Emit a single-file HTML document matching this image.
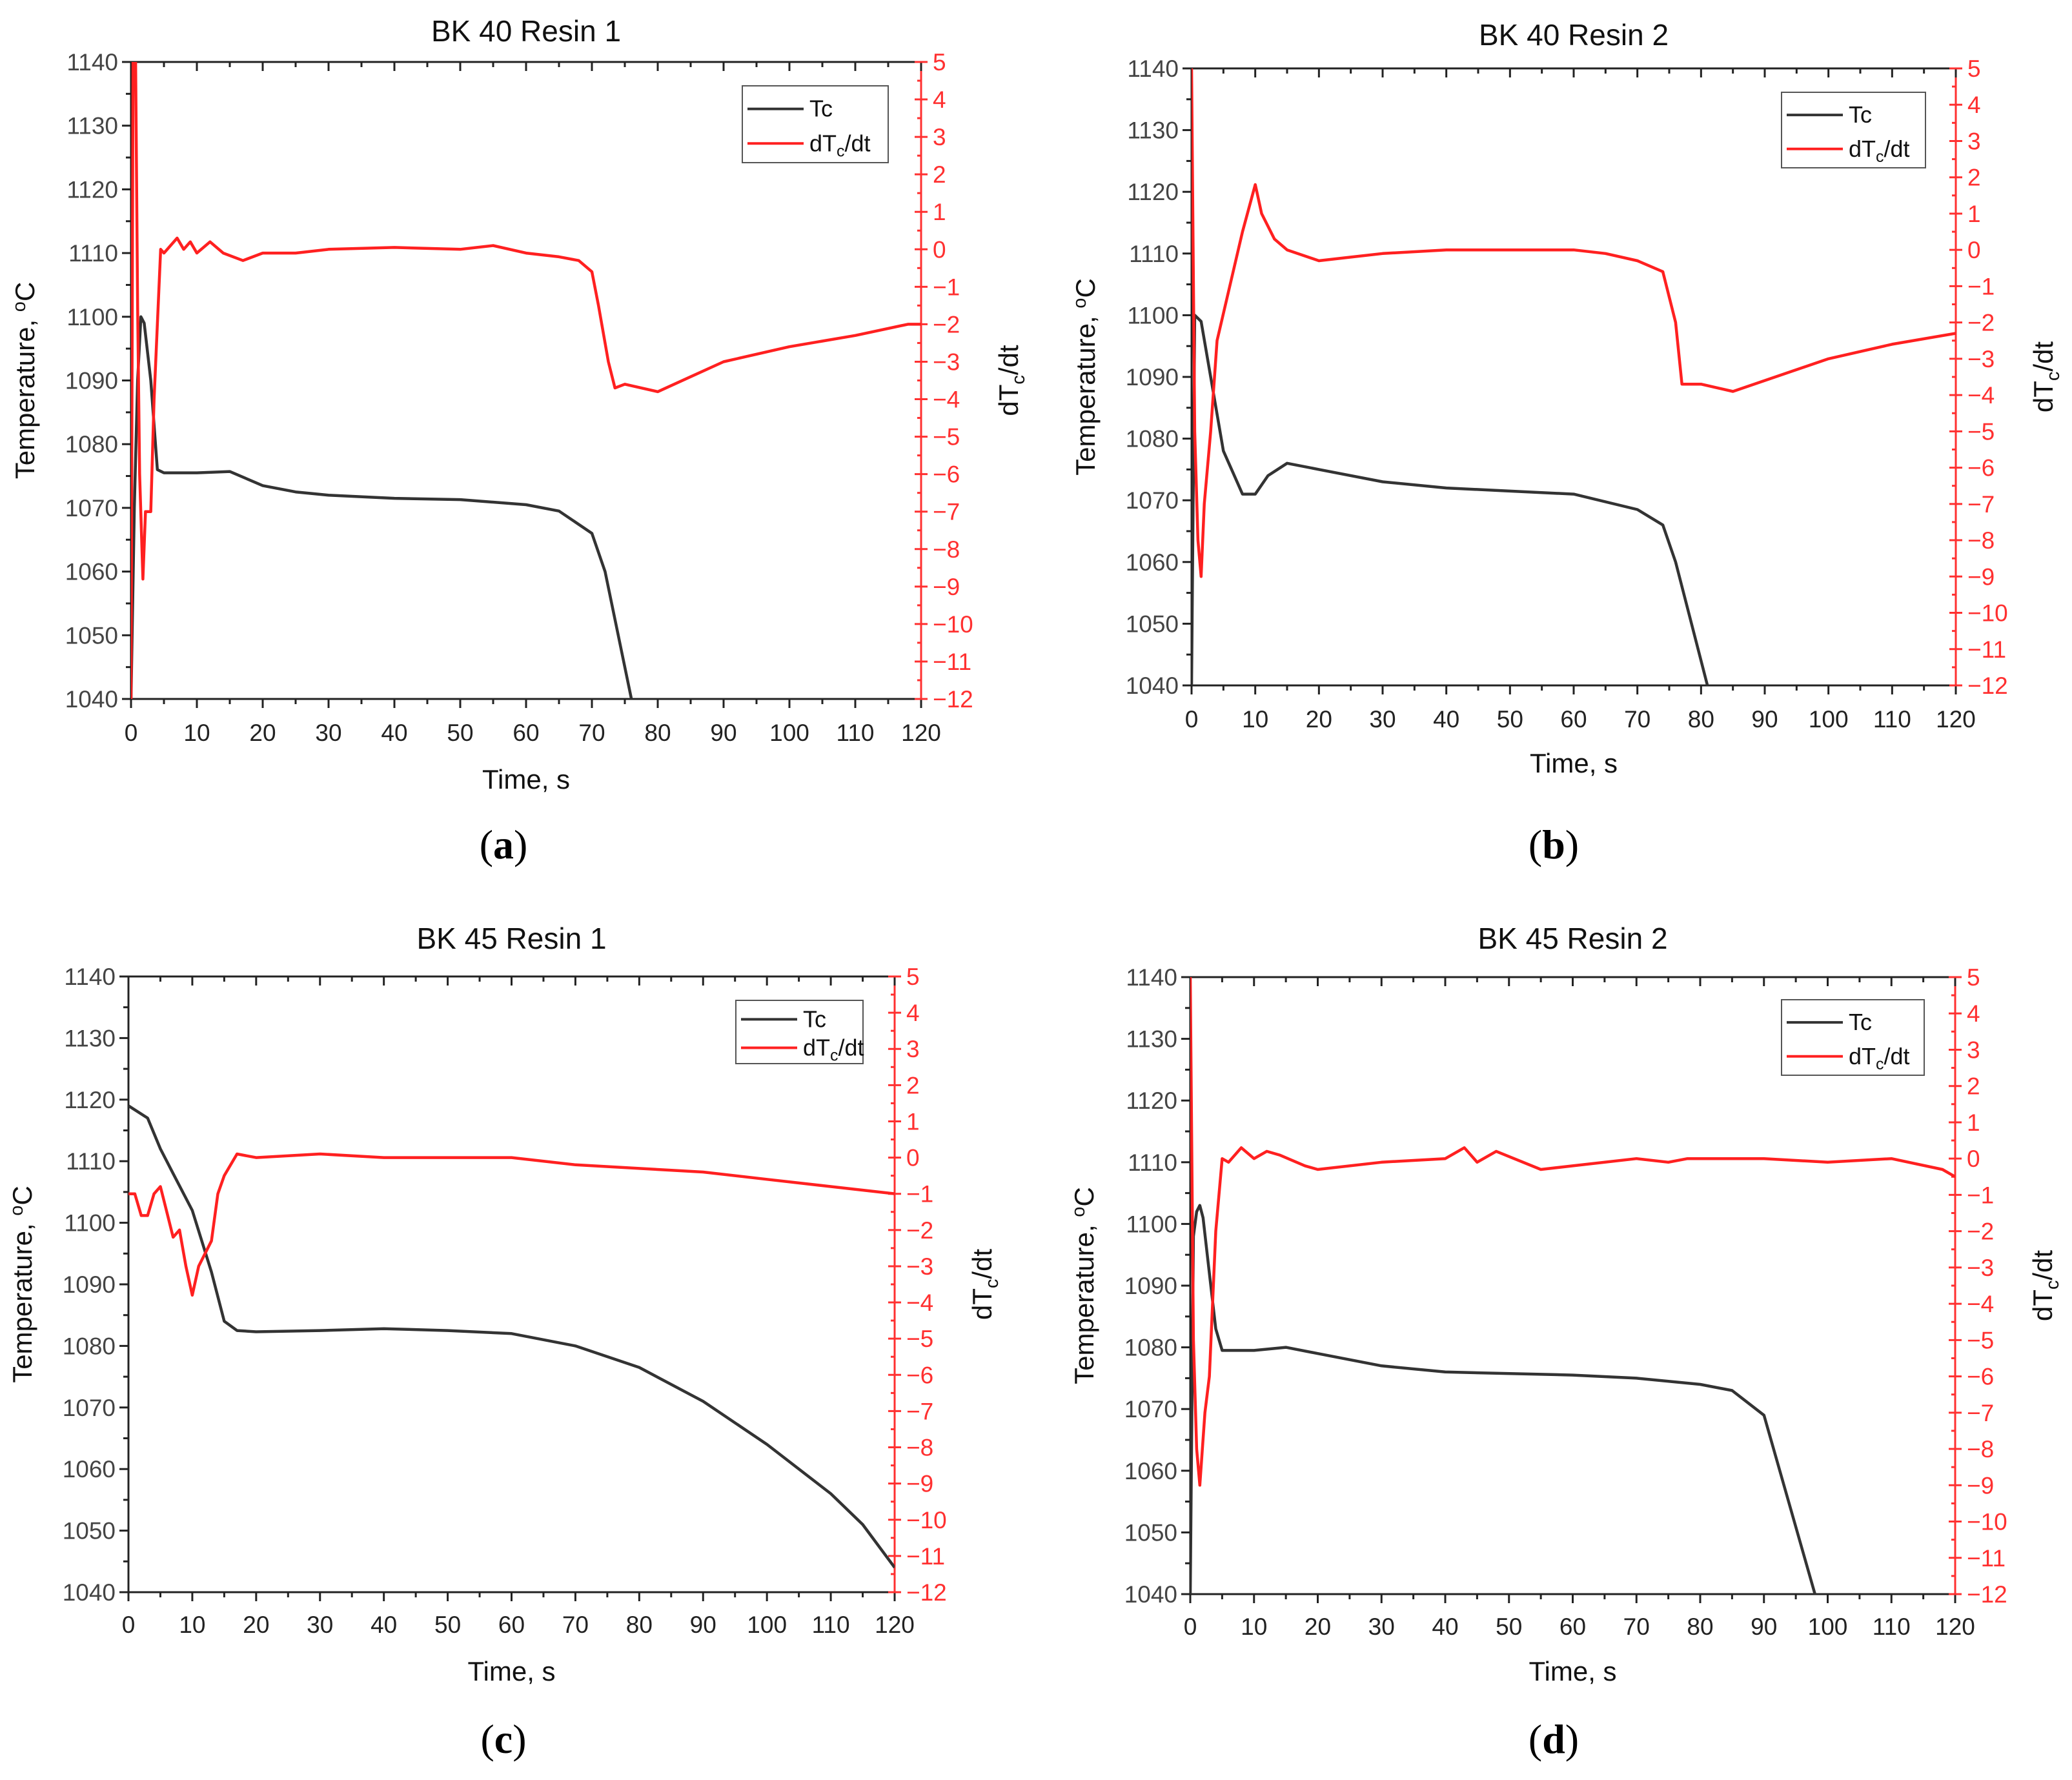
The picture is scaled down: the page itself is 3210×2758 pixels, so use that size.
<!DOCTYPE html>
<html><head><meta charset="utf-8">
<style>
html,body{margin:0;padding:0;background:#fff;}
svg{display:block;font-family:"Liberation Sans",Arial,sans-serif;}
</style></head>
<body>
<svg id="fig" width="3210" height="2758" viewBox="0 0 3210 2758" xmlns="http://www.w3.org/2000/svg"></svg>
<script>
// ---- data (time s, value) ----
const aTcT=[0,0.5,1,1.5,2,3,4,5,10,15,20,25,30,40,50,60,65,70,72,76];
const aTcV=[1040,1070,1090,1100,1099,1090,1076,1075.5,1075.5,1075.7,1073.5,1072.5,1072,1071.5,1071.3,1070.5,1069.5,1066,1060,1040];
const aDT=[0,0.3,0.7,1,1.3,1.8,2.2,3,3.5,4.5,5,6,7,8,9,10,12,14,17,20,25,30,40,50,55,60,65,68,70,71,72.5,73.5,75,80,85,90,100,110,118,120];
const aDV=[-12,5,5,-1.5,-6,-8.8,-7,-7,-4,0,-0.1,0.1,0.3,0,0.2,-0.1,0.2,-0.1,-0.3,-0.1,-0.1,0,0.05,0,0.1,-0.1,-0.2,-0.3,-0.6,-1.5,-3,-3.7,-3.6,-3.8,-3.4,-3,-2.6,-2.3,-2,-2];
const bTcT=[0,0.5,1.5,3,5,8,10,12,15,20,30,40,50,60,70,74,76,81];
const bTcV=[1040,1100,1099,1090,1078,1071,1071,1074,1076,1075,1073,1072,1071.5,1071,1068.5,1066,1060,1040];
const bDT=[0,0.5,1,1.5,2,3,4,6,8,10,11,13,15,20,25,30,40,50,60,65,70,74,76,77,80,85,90,100,110,120];
const bDV=[5,-5,-8,-9,-7,-5,-2.5,-1,0.5,1.8,1,0.3,0,-0.3,-0.2,-0.1,0,0,0,-0.1,-0.3,-0.6,-2,-3.7,-3.7,-3.9,-3.6,-3,-2.6,-2.3];
const cTcT=[0,3,5,7,10,13,15,17,20,30,40,50,60,70,80,90,100,110,115,120];
const cTcV=[1119,1117,1112,1108,1102,1092,1084,1082.5,1082.3,1082.5,1082.8,1082.5,1082,1080,1076.5,1071,1064,1056,1051,1044];
const cDT=[0,1,2,3,4,5,6,7,8,9,10,11,13,14,15,17,20,30,40,50,60,70,80,90,100,110,120];
const cDV=[-1,-1,-1.6,-1.6,-1,-0.8,-1.5,-2.2,-2,-3,-3.8,-3,-2.3,-1,-0.5,0.1,0,0.1,0,0,0,-0.2,-0.3,-0.4,-0.6,-0.8,-1];
const dTcT=[0,0.5,1,1.5,2,3,4,5,10,15,20,30,40,60,70,80,85,90,98];
const dTcV=[1040,1098,1102,1103,1101,1092,1083,1079.5,1079.5,1080,1079,1077,1076,1075.5,1075,1074,1073,1069,1040];
const dDT=[0,0.5,1,1.5,2.3,3,4,5,6,8,10,12,14,18,20,30,40,43,45,48,55,60,70,75,78,90,100,110,118,120];
const dDV=[5,-5,-8,-9,-7,-6,-2,0,-0.1,0.3,0,0.2,0.1,-0.2,-0.3,-0.1,0,0.3,-0.1,0.2,-0.3,-0.2,0,-0.1,0,0,-0.1,0,-0.3,-0.5];
const xTicks=[0,10,20,30,40,50,60,70,80,90,100,110,120];
const tTicks=[1040,1050,1060,1070,1080,1090,1100,1110,1120,1130,1140];
const rTicks=[-12,-11,-10,-9,-8,-7,-6,-5,-4,-3,-2,-1,0,1,2,3,4,5];

const NS="http://www.w3.org/2000/svg";
const svg=document.getElementById('fig');
function mk(tag,attrs,parent){const e=document.createElementNS(NS,tag);for(const k in attrs)e.setAttribute(k,attrs[k]);(parent||svg).appendChild(e);return e;}

const panels=[
 {id:'a',title:'BK 40  Resin 1',L:203,R:1427,T:96,B:1083,titleY:64,tickY:1148,xlabY:1222,capX:780,capY:1330,leg:[1150,133,1376,252],tc:[aTcT,aTcV],dt:[aDT,aDV]},
 {id:'b',title:'BK 40  Resin 2',L:1846,R:3030,T:106,B:1062,titleY:70,tickY:1127,xlabY:1197,capX:2407,capY:1330,leg:[2760,143,2983,260],tc:[bTcT,bTcV],dt:[bDT,bDV]},
 {id:'c',title:'BK 45  Resin 1',L:199,R:1386,T:1513,B:2467,titleY:1470,tickY:2530,xlabY:2604,capX:780,capY:2716,leg:[1140,1550,1337,1648],tc:[cTcT,cTcV],dt:[cDT,cDV]},
 {id:'d',title:'BK 45  Resin 2',L:1844,R:3029,T:1514,B:2470,titleY:1470,tickY:2533,xlabY:2604,capX:2407,capY:2716,leg:[2760,1549,2981,1666],tc:[dTcT,dTcV],dt:[dDT,dDV]}
];

panels.forEach(p=>{
 const g=mk('g',{});
 
 
 const x=t=>p.L+(t/120)*(p.R-p.L);
 const yT=v=>p.B-(v-1040)/100*(p.B-p.T);
 const yD=v=>p.B-(v+12)/17*(p.B-p.T);
 const cx=(p.L+p.R)/2;
 const tt=mk('text',{x:cx,y:p.titleY,'font-size':46,'text-anchor':'middle',fill:'#111'},g);
 tt.textContent=p.title;
 
 
 mk('line',{x1:p.L,y1:p.T,x2:p.R,y2:p.T,stroke:'#222','stroke-width':3},g);
 mk('line',{x1:p.L,y1:p.B,x2:p.R,y2:p.B,stroke:'#222','stroke-width':3},g);
 mk('line',{x1:p.L,y1:p.T,x2:p.L,y2:p.B,stroke:'#222','stroke-width':3},g);
 const ra=mk('line',{x1:p.R,y1:p.T,x2:p.R,y2:p.B,stroke:'#ff3030','stroke-width':3},g);
 
 
 xTicks.forEach((t,i)=>{
  const X=x(t);
  mk('line',{x1:X,y1:p.B,x2:X,y2:p.B+14,stroke:'#222','stroke-width':3},g);
  mk('line',{x1:X,y1:p.T,x2:X,y2:p.T+14,stroke:'#222','stroke-width':3},g);
  if(i<xTicks.length-1){const Xm=x(t+5);
   mk('line',{x1:Xm,y1:p.B,x2:Xm,y2:p.B+8,stroke:'#222','stroke-width':3},g);
   mk('line',{x1:Xm,y1:p.T,x2:Xm,y2:p.T+8,stroke:'#222','stroke-width':3},g);}
  const lb=mk('text',{x:X,y:p.tickY,'font-size':37,'text-anchor':'middle',fill:'#222'},g);
  lb.textContent=t;
  
  
 });
 tTicks.forEach((v,i)=>{
  const Y=yT(v);
  mk('line',{x1:p.L-14,y1:Y,x2:p.L,y2:Y,stroke:'#222','stroke-width':3},g);
  if(i<tTicks.length-1){const Ym=yT(v+5);mk('line',{x1:p.L-8,y1:Ym,x2:p.L,y2:Ym,stroke:'#222','stroke-width':3},g);}
  const lb=mk('text',{x:p.L-20,y:Y+13,'font-size':37,'text-anchor':'end',fill:'#444'},g);
  lb.textContent=v;
  
  
 });
 rTicks.forEach((v,i)=>{
  const Y=yD(v);
  mk('line',{x1:p.R-10,y1:Y,x2:p.R+10,y2:Y,stroke:'#ff3030','stroke-width':3},g);
  if(i<rTicks.length-1){const Ym=yD(v+0.5);mk('line',{x1:p.R-6,y1:Ym,x2:p.R,y2:Ym,stroke:'#ff3030','stroke-width':3},g);}
  const lb=mk('text',{x:p.R+18,y:Y+13,'font-size':37,'text-anchor':'start',fill:'#ff3030'},g);
  lb.textContent=v<0?'\u2212'+(-v):v;
  
  
 });
 const xl=mk('text',{x:cx,y:p.xlabY,'font-size':42,'text-anchor':'middle',fill:'#111'},g);
 xl.textContent='Time, s';
 
 
 const ly=(p.T+p.B)/2, lx=p.L-150;
 const yl=mk('text',{x:lx,y:ly,'font-size':42,'text-anchor':'middle',fill:'#111',transform:`rotate(-90 ${lx} ${ly})`},g);
 yl.innerHTML='Temperature, <tspan font-size="29" dy="-14">o</tspan><tspan dy="14">C</tspan>';
 
 
 const rx=p.R+150;
 const rl=mk('text',{x:rx,y:ly,'font-size':42,'text-anchor':'middle',fill:'#111',transform:`rotate(-90 ${rx} ${ly})`},g);
 rl.innerHTML='dT<tspan font-size="29" dy="10">c</tspan><tspan dy="-10">/dt</tspan>';
 
 
 const cp=mk('clipPath',{id:'clip'+p.id},g);
 mk('rect',{x:p.L,y:p.T,width:p.R-p.L,height:p.B-p.T},cp);
 const tcPts=p.tc[0].map((t,i)=>x(t).toFixed(1)+','+yT(p.tc[1][i]).toFixed(1)).join(' ');
 const tcl=mk('polyline',{points:tcPts,fill:'none',stroke:'#333','stroke-width':4.5,'stroke-linejoin':'round','clip-path':`url(#clip${p.id})`},g);
 
 
 const dPts=p.dt[0].map((t,i)=>x(t).toFixed(1)+','+yD(p.dt[1][i]).toFixed(1)).join(' ');
 const dl=mk('polyline',{points:dPts,fill:'none',stroke:'#ff2020','stroke-width':4.5,'stroke-linejoin':'round','clip-path':`url(#clip${p.id})`},g);
 
 
 const [lx0,ly0,lx1,ly1]=p.leg;
 const lg=mk('g',{},g);
 
 
 mk('rect',{x:lx0,y:ly0,width:lx1-lx0,height:ly1-ly0,fill:'#fff',stroke:'#555','stroke-width':2},lg);
 const r1=ly0+(ly1-ly0)*0.3, r2=ly0+(ly1-ly0)*0.75;
 mk('line',{x1:lx0+8,y1:r1,x2:lx0+95,y2:r1,stroke:'#333','stroke-width':4},lg);
 mk('line',{x1:lx0+8,y1:r2,x2:lx0+95,y2:r2,stroke:'#ff2020','stroke-width':4},lg);
 const e1=mk('text',{x:lx0+104,y:r1+12,'font-size':36,fill:'#111'},lg);
 e1.textContent='Tc';
 
 
 const e2=mk('text',{x:lx0+104,y:r2+12,'font-size':36,fill:'#111'},lg);
 e2.innerHTML='dT<tspan font-size="25" dy="8">c</tspan><tspan dy="-8">/dt</tspan>';
 
 
 const cap=mk('text',{x:p.capX,y:p.capY,'font-size':64,'text-anchor':'middle',fill:'#000','font-family':'"Liberation Serif",serif'},g);
 cap.innerHTML='(<tspan font-weight="bold">'+p.id+'</tspan>)';
 
 
});
</script>
</body></html>
